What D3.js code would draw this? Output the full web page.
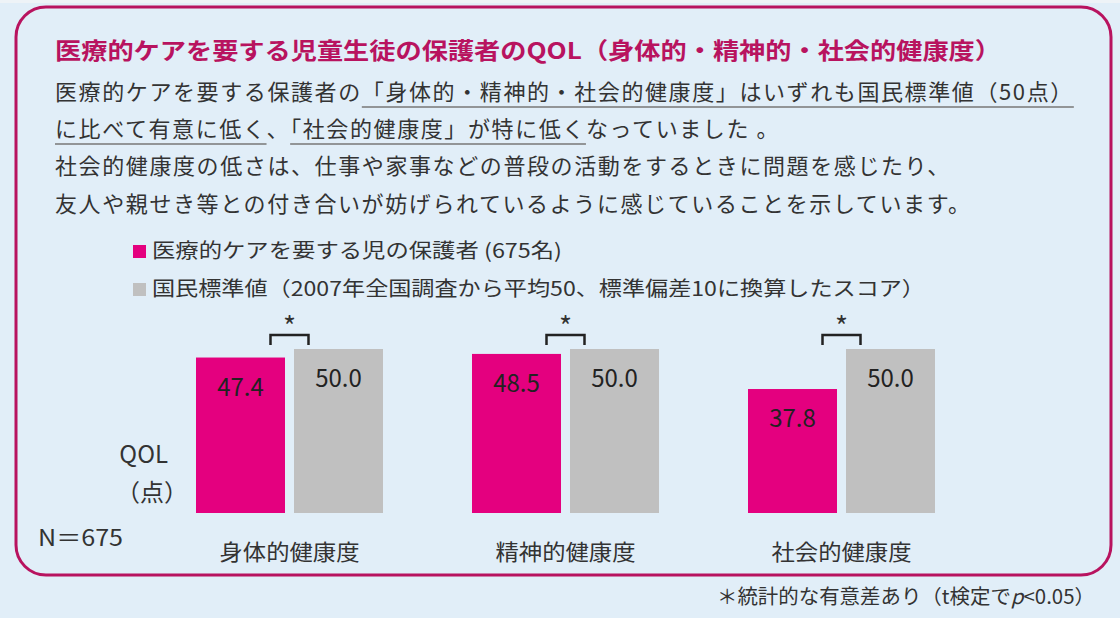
<!DOCTYPE html>
<html lang="ja">
<head>
	<meta charset="UTF-8"/>
	<title>医療的ケアを要する児童生徒の保護者のQOL</title>
	<script src="https://d3js.org/d3.v7.min.js"></script>
	<style>
		body { margin:0; background:#e1eef8; overflow:hidden; }
		svg { display:block; font-family:"Noto Sans CJK JP","Noto Sans",sans-serif; }
	</style>
</head>
<body>
<script>
	var w = 1120;	// Width of the SVG
	var h = 618;	// Height of the SVG

	// chart data
	var categories = ["身体的健康度", "精神的健康度", "社会的健康度"];
	var careValues = [47.4, 48.5, 37.8];
	var normValues = [50.0, 50.0, 50.0];
	var seriesNames = ["医療的ケアを要する児の保護者 (675名)",
		"国民標準値（2007年全国調査から平均50、標準偏差10に換算したスコア）"];
	var sigMarks = ["*", "*", "*"];

	// texts
	var titleText = "医療的ケアを要する児童生徒の保護者のQOL（身体的・精神的・社会的健康度）";
	// segments: even index = plain, odd index = underlined
	var bodyLines = [
		["医療的ケアを要する保護者の", "「身体的・精神的・社会的健康度」はいずれも国民標準値（50点）"],
		["", "に比べて有意に低く", "、", "「社会的健康度」が特に低く", "なっていました 。"],
		["社会的健康度の低さは、仕事や家事などの普段の活動をするときに問題を感じたり、"],
		["友人や親せき等との付き合いが妨げられているように感じていることを示しています。"]
	];
	var yLabel = ["QOL", "（点）"];
	var nText = "N＝675";
	var noteText = ["＊統計的な有意差あり（t検定で", "p", "<0.05）"];

	var pink = "#e4007f", grey = "#c0c0c0", frameCol = "#b8135f", textCol = "#333";

	var svg = d3.select("body")
				.append("svg")
				.attr("width", w)
				.attr("height", h);

	// light strip at the very top
	svg.append("rect").attr("x", 0).attr("y", 0).attr("width", w).attr("height", 3).attr("fill", "#eef3f7");

	// rounded frame
	svg.append("rect")
		.attr("x", 16).attr("y", 7)
		.attr("width", 1095).attr("height", 568)
		.attr("rx", 30).attr("ry", 30)
		.attr("fill", "none")
		.attr("stroke", frameCol)
		.attr("stroke-width", 3);

	// title
	svg.append("text")
		.attr("x", 55).attr("y", 59)
		.attr("font-size", 23)
		.attr("font-weight", "bold")
		.attr("fill", frameCol)
		.attr("textLength", 946)
		.attr("lengthAdjust", "spacingAndGlyphs")
		.text(titleText);

	// body lines with underlined parts
	var lineY = [100, 137, 174, 212];
	bodyLines.forEach(function(segs, li) {
		var t = svg.append("text")
			.attr("x", 55).attr("y", lineY[li])
			.attr("font-size", 22)
			.attr("letter-spacing", 1.6)
			.attr("fill", textCol);
		t.selectAll("tspan").data(segs).enter().append("tspan").text(function(d) { return d; });
		var node = t.node();
		var idx = 0;
		segs.forEach(function(s, si) {
			if (si % 2 == 1 && s.length > 0) {
				var x1 = node.getStartPositionOfChar(idx).x;
				var x2 = node.getEndPositionOfChar(idx + s.length - 1).x;
				svg.append("line")
					.attr("x1", x1).attr("x2", x2)
					.attr("y1", lineY[li] + 7).attr("y2", lineY[li] + 7)
					.attr("stroke", "#777")
					.attr("stroke-width", 1.5);
			}
			idx += s.length;
		});
	});

	// legend
	var legendCols = [pink, grey];
	var legendW = [410, 773];
	seriesNames.forEach(function(name, i) {
		var ly = 258 + i * 38;
		svg.append("rect")
			.attr("x", 133).attr("y", ly - 13)
			.attr("width", 13).attr("height", 13)
			.attr("fill", legendCols[i]);
		svg.append("text")
			.attr("x", 152).attr("y", ly)
			.attr("font-size", 20)
			.attr("fill", textCol)
			.attr("textLength", legendW[i])
			.attr("lengthAdjust", "spacingAndGlyphs")
			.text(name);
	});

	// scales
	var x0 = d3.scaleBand()
		.domain(categories)
		.range([196, 935])
		.paddingInner(0.3225)
		.paddingOuter(0);
	var x1 = d3.scaleBand()
		.domain([0, 1])
		.range([0, x0.bandwidth()])
		.paddingInner(0.0918);
	var yScale = d3.scaleLinear()
		.domain([0, 50])
		.range([513, 349]);

	var rows = categories.map(function(c, i) {
		return { cat: c, vals: [careValues[i], normValues[i]], sig: sigMarks[i] };
	});

	var groups = svg.selectAll("g.grp")
		.data(rows)
		.enter()
		.append("g")
		.attr("class", "grp")
		.attr("transform", function(d) { return "translate(" + x0(d.cat) + ",0)"; });

	// bars
	groups.selectAll("rect")
		.data(function(d) { return d.vals; })
		.enter()
		.append("rect")
		.attr("x", function(d, i) { return x1(i); })
		.attr("y", function(d) { return yScale(d); })
		.attr("width", x1.bandwidth())
		.attr("height", function(d) { return yScale(0) - yScale(d); })
		.attr("fill", function(d, i) { return i == 0 ? pink : grey; });

	// value labels inside the bars
	groups.selectAll("text.val")
		.data(function(d) { return d.vals; })
		.enter()
		.append("text")
		.attr("class", "val")
		.attr("x", function(d, i) { return x1(i) + x1.bandwidth() / 2; })
		.attr("y", function(d) { return yScale(d) + 38; })
		.attr("text-anchor", "middle")
		.attr("font-size", 24)
		.attr("fill", "#222")
		.text(function(d) { return d.toFixed(1); });

	// significance brackets
	var mid = (x1(0) + x1.bandwidth() + x1(1)) / 2;
	groups.append("path")
		.attr("d", "M" + (mid - 19) + ",345V335H" + (mid + 19) + "V345")
		.attr("fill", "none")
		.attr("stroke", "#222")
		.attr("stroke-width", 2.5);
	groups.append("text")
		.attr("x", mid)
		.attr("y", 337)
		.attr("text-anchor", "middle")
		.attr("font-size", 28)
		.attr("fill", "#333")
		.text(function(d) { return d.sig; });

	// category labels
	svg.selectAll("text.cat")
		.data(categories)
		.enter()
		.append("text")
		.attr("class", "cat")
		.attr("x", function(d) { return x0(d) + x0.bandwidth() / 2; })
		.attr("y", 560)
		.attr("text-anchor", "middle")
		.attr("font-size", 22)
		.attr("fill", textCol)
		.attr("textLength", 140)
		.attr("lengthAdjust", "spacingAndGlyphs")
		.text(function(d) { return d; });

	// y label
	svg.append("text")
		.attr("x", 168).attr("y", 463)
		.attr("text-anchor", "end")
		.attr("font-size", 24)
		.attr("fill", textCol)
		.text(yLabel[0]);
	svg.append("text")
		.attr("x", 188).attr("y", 501)
		.attr("text-anchor", "end")
		.attr("font-size", 24)
		.attr("fill", textCol)
		.text(yLabel[1]);

	// N
	svg.append("text")
		.attr("x", 38).attr("y", 546)
		.attr("font-size", 23)
		.attr("fill", textCol)
		.attr("textLength", 85)
		.attr("lengthAdjust", "spacingAndGlyphs")
		.text(nText);

	// footnote
	var note = svg.append("text")
		.attr("x", 717).attr("y", 604)
		.attr("font-size", 20)
		.attr("fill", textCol)
		.attr("textLength", 378)
		.attr("lengthAdjust", "spacingAndGlyphs");
	note.selectAll("tspan")
		.data(noteText)
		.enter()
		.append("tspan")
		.attr("font-style", function(d, i) { return i == 1 ? "italic" : null; })
		.text(function(d) { return d; });
</script>
</body>
</html>
